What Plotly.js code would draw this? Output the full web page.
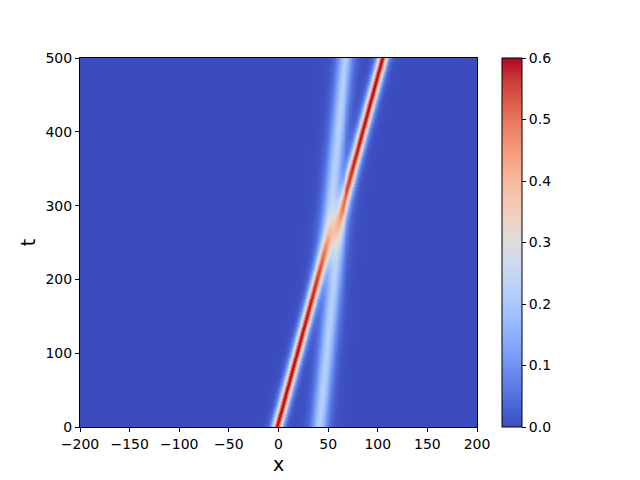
<!DOCTYPE html>
<html>
<head>
<meta charset="utf-8">
<script src="https://cdn.plot.ly/plotly-3.0.1.min.js"></script>
<style>
  body { margin: 0; background: #fff; }
  #heat { width: 640px; height: 480px; }
</style>
</head>
<body>
<div id="heat"></div>
<script>
// two solitons: peak height and where each sits at t = 0
var solitonAmplitude = [0.6, 0.22];
var solitonStartX = [-1, 41];

// grid of the field
var xRange = [-200, 200];
var tRange = [0, 500];
var xStep = 1;
var tStep = 2;

// colorbar ticks
var barTicks = [0.0, 0.1, 0.2, 0.3, 0.4, 0.5, 0.6];

// soliton u = 3c sech^2(sqrt(c)/2 (x - c t)), so c = amplitude / 3
var k = solitonAmplitude.map(a => Math.sqrt(a / 3));
var A12 = Math.pow((k[0] - k[1]) / (k[0] + k[1]), 2);
// the slower one is seen shifted by -ln(A12)/k2 before the collision
var phaseX = [solitonStartX[0], solitonStartX[1] + Math.log(A12) / k[1]];

var xs = [];
for (var x = xRange[0]; x <= xRange[1]; x += xStep) xs.push(x);
var ts = [];
for (var t = tRange[0]; t <= tRange[1]; t += tStep) ts.push(t);

// two-soliton field u = 12 (ln F)_xx
var z = ts.map(function (t) {
  return xs.map(function (x) {
    var e1 = Math.exp(k[0] * (x - phaseX[0] - k[0] * k[0] * t));
    var e2 = Math.exp(k[1] * (x - phaseX[1] - k[1] * k[1] * t));
    var s = k[0] + k[1], d = k[0] - k[1];
    var F = 1 + e1 + e2 + A12 * e1 * e2;
    var N = k[0] * k[0] * e1 + k[1] * k[1] * e2 + (A12 * s * s + d * d) * e1 * e2
          + A12 * k[1] * k[1] * e1 * e1 * e2 + A12 * k[0] * k[0] * e1 * e2 * e2;
    return 12 * N / (F * F);
  });
});

// matplotlib coolwarm
var coolwarm = [
  [0.0, "rgb(59,76,192)"], [0.0625, "rgb(77,104,215)"], [0.125, "rgb(98,130,234)"],
  [0.1875, "rgb(119,154,247)"], [0.25, "rgb(141,176,254)"], [0.3125, "rgb(163,194,255)"],
  [0.375, "rgb(184,208,249)"], [0.4375, "rgb(204,217,238)"], [0.5, "rgb(221,221,221)"],
  [0.5625, "rgb(236,211,197)"], [0.625, "rgb(245,196,173)"], [0.6875, "rgb(247,177,148)"],
  [0.75, "rgb(244,154,123)"], [0.8125, "rgb(236,127,99)"], [0.875, "rgb(222,96,77)"],
  [0.9375, "rgb(203,62,56)"], [1.0, "rgb(180,4,38)"]
];

var trace = {
  type: "heatmap",
  x: xs,
  y: ts,
  z: z,
  zmin: 0,
  zmax: 0.6,
  colorscale: coolwarm,
  zsmooth: false,
  colorbar: {
    x: 1.063, xanchor: "left", xpad: 0,
    y: 0, yanchor: "bottom", ypad: 0, len: 1,
    thickness: 20,
    outlinewidth: 1, outlinecolor: "#000",
    tickvals: barTicks, tickformat: ".1f",
    ticks: "outside", ticklen: 4, tickcolor: "#000",
    tickfont: {family: "DejaVu Sans", size: 14, color: "#000"}
  }
};

var axisStyle = {
  showgrid: false, zeroline: false,
  showline: true, linecolor: "#000", linewidth: 1, mirror: true,
  ticks: "outside", ticklen: 4, tickcolor: "#000",
  tickfont: {family: "DejaVu Sans", size: 14, color: "#000"}
};

var layout = {
  width: 640, height: 480,
  margin: {l: 80, r: 163, t: 58, b: 53},
  paper_bgcolor: "#fff", plot_bgcolor: "#fff",
  xaxis: Object.assign({}, axisStyle, {
    range: xRange, tickvals: [-200, -150, -100, -50, 0, 50, 100, 150, 200],
    title: {text: "x", font: {family: "DejaVu Sans", size: 19, color: "#000"}, standoff: 6}
  }),
  yaxis: Object.assign({}, axisStyle, {
    range: tRange, tickvals: [0, 100, 200, 300, 400, 500],
    title: {text: "t", font: {family: "DejaVu Sans", size: 19, color: "#000"}, standoff: 4}
  })
};

Plotly.newPlot("heat", [trace], layout, {displayModeBar: false, staticPlot: true});
</script>
</body>
</html>
